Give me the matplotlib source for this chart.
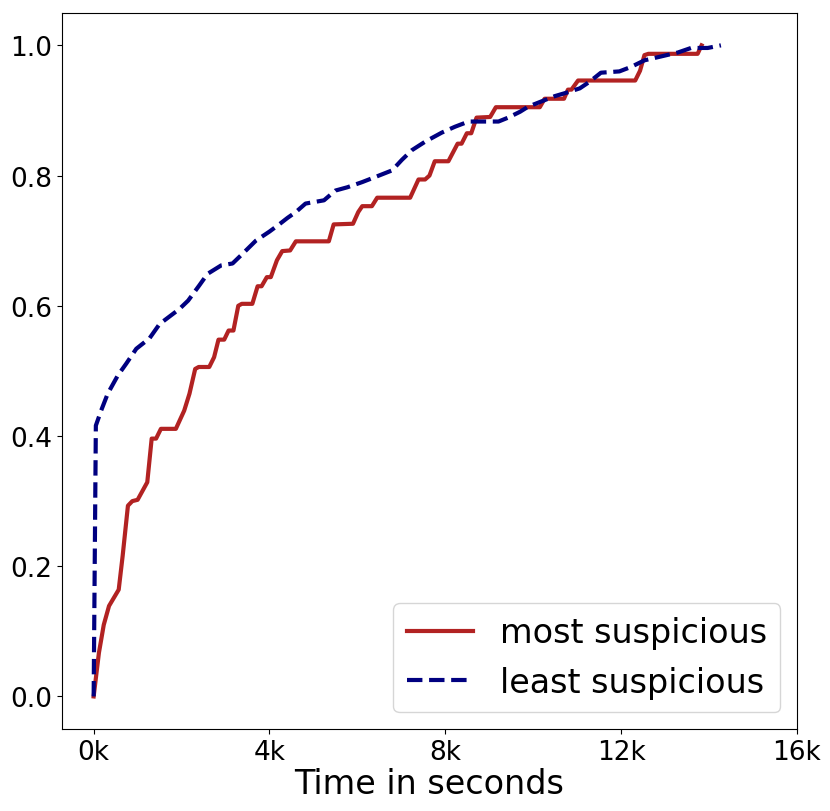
import matplotlib
matplotlib.use('Agg')
import matplotlib.pyplot as plt
from matplotlib.ticker import FuncFormatter

# time in thousands of seconds, fraction found
most_x = [0, 0.12, 0.23, 0.35, 0.57, 0.66, 0.78, 0.88, 1.0, 1.22, 1.32, 1.42, 1.53, 1.87,
          2.06, 2.18, 2.31, 2.39, 2.63, 2.74, 2.84, 2.97, 3.07, 3.18, 3.29, 3.37, 3.61,
          3.73, 3.82, 3.94, 4.03, 4.17, 4.29, 4.47, 4.60, 5.35, 5.46, 5.90, 6.02, 6.11,
          6.33, 6.45, 7.20, 7.39, 7.54, 7.64, 7.76, 8.07, 8.28, 8.37, 8.49, 8.59, 8.71,
          9.02, 9.15, 10.15, 10.26, 10.70, 10.79, 10.87, 11.02, 12.32, 12.43, 12.53,
          12.62, 13.74, 13.83]
most_y = [0, 0.067, 0.11, 0.139, 0.164, 0.216, 0.293, 0.30, 0.302, 0.329, 0.396, 0.396,
          0.411, 0.411, 0.439, 0.465, 0.503, 0.506, 0.506, 0.521, 0.548, 0.548, 0.562,
          0.562, 0.60, 0.603, 0.603, 0.630, 0.630, 0.644, 0.644, 0.670, 0.684, 0.685,
          0.699, 0.699, 0.725, 0.726, 0.744, 0.753, 0.753, 0.766, 0.766, 0.794, 0.794,
          0.80, 0.822, 0.822, 0.849, 0.849, 0.865, 0.865, 0.889, 0.89, 0.905, 0.905,
          0.918, 0.918, 0.932, 0.932, 0.946, 0.946, 0.961, 0.985, 0.987, 0.987, 1.0]

least_x = [0, 0.05, 0.17, 0.32, 0.55, 0.74, 0.97, 1.27, 1.5, 1.95, 2.15, 2.40, 2.59, 2.90,
           3.16, 3.39, 3.69, 4.0, 4.22, 4.41, 4.60, 4.82, 5.24, 5.50, 5.77, 6.11, 6.49,
           6.79, 7.01, 7.24, 7.54, 7.92, 8.22, 8.53, 9.21, 9.43, 9.70, 9.89, 10.19,
           10.49, 10.79, 11.06, 11.28, 11.54, 11.96, 12.23, 12.53, 12.91, 13.29, 13.59,
           13.97, 14.27]
least_y = [0, 0.416, 0.439, 0.465, 0.493, 0.511, 0.534, 0.55, 0.572, 0.595, 0.608, 0.631,
           0.649, 0.662, 0.665, 0.68, 0.70, 0.714, 0.725, 0.735, 0.744, 0.757, 0.762,
           0.777, 0.782, 0.79, 0.80, 0.808, 0.824, 0.839, 0.852, 0.866, 0.875, 0.883,
           0.883, 0.889, 0.898, 0.906, 0.914, 0.922, 0.928, 0.934, 0.944, 0.958, 0.96,
           0.967, 0.977, 0.983, 0.989, 0.996, 0.996, 1.0]

fig = plt.figure(figsize=(8.3, 8.12), dpi=100)
ax = fig.add_axes([0.0747, 0.101, 0.8855, 0.882])

ax.plot([v * 1000 for v in most_x], most_y, color='firebrick', lw=3, label='most suspicious')
ax.plot([v * 1000 for v in least_x], least_y, color='navy', lw=3, ls='--', label='least suspicious')

ax.set_xlim(-720, 16000)
ax.set_ylim(-0.05, 1.05)
ax.set_xticks([0, 4000, 8000, 12000, 16000])
ax.set_yticks([0, 0.2, 0.4, 0.6, 0.8, 1.0])
ax.xaxis.set_major_formatter(FuncFormatter(lambda v, p: '%dk' % int(round(v / 1000))))
ax.tick_params(labelsize=19)
ax.set_xlabel('Time in seconds', fontsize=24, labelpad=2)
ax.legend(loc='lower right', fontsize=24, handlelength=2.0, borderaxespad=0.5)

plt.savefig('out.png', dpi=100)
